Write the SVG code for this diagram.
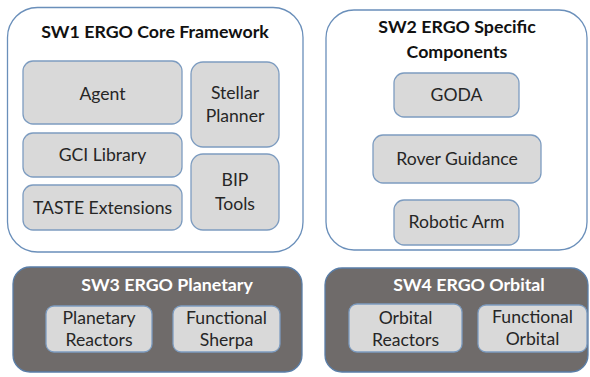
<svg xmlns="http://www.w3.org/2000/svg" width="590" height="377" viewBox="0 0 590 377">
<style>
.outer{fill:#ffffff;stroke:#6a8fba;stroke-width:1.3}
.dark{fill:#6f6b6a;stroke:#5a7ea8;stroke-width:1.3}
.box{fill:#d9d9d9;stroke:#7d9cc0;stroke-width:1.3}
.t{font-family:Lato,"Liberation Sans",sans-serif;font-size:17.6px;fill:#262626;text-anchor:middle}
.h{font-family:Lato,"Liberation Sans",sans-serif;font-size:17.8px;font-weight:bold;fill:#111111;text-anchor:middle}
.hw{font-family:Lato,"Liberation Sans",sans-serif;font-size:17.8px;font-weight:bold;fill:#ffffff;text-anchor:middle}
</style>
<rect width="590" height="377" fill="#ffffff"/>
<g id="sw1">
<rect class="outer" x="7.5" y="7.5" width="295.5" height="244.5" rx="30"/>
<text class="h" x="155" y="38">SW1 ERGO Core Framework</text>
</g>
<g id="agent"><rect class="box" x="23" y="61" width="159" height="63" rx="10"/><text class="t" x="102.5" y="100">Agent</text></g>
<g id="gci"><rect class="box" x="23" y="133" width="159" height="44" rx="10"/><text class="t" x="102.5" y="161">GCI Library</text></g>
<g id="taste"><rect class="box" x="23" y="185" width="159" height="45" rx="10"/><text class="t" x="102.5" y="214">TASTE Extensions</text></g>
<g id="stellar"><rect class="box" x="191" y="62" width="88" height="85" rx="12"/><text class="t" x="235" y="99">Stellar</text><text class="t" x="235" y="122">Planner</text></g>
<g id="bip"><rect class="box" x="191" y="154" width="88" height="76" rx="12"/><text class="t" x="235" y="186">BIP</text><text class="t" x="235" y="210">Tools</text></g>
<g id="sw2">
<rect class="outer" x="326" y="10" width="261" height="240" rx="28"/>
<text class="h" x="457" y="33">SW2 ERGO Specific</text>
<text class="h" x="457" y="58">Components</text>
</g>
<g id="goda"><rect class="box" x="394" y="73" width="125" height="44" rx="10"/><text class="t" x="456.5" y="101">GODA</text></g>
<g id="rover"><rect class="box" x="373" y="135" width="168" height="48" rx="10"/><text class="t" x="457" y="165">Rover Guidance</text></g>
<g id="arm"><rect class="box" x="394" y="200" width="125" height="45" rx="10"/><text class="t" x="456.5" y="228">Robotic Arm</text></g>
<g id="sw3">
<rect class="dark" x="13" y="267" width="289" height="105" rx="17"/>
<text class="hw" x="167" y="291">SW3 ERGO Planetary</text>
</g>
<g id="planetary"><rect class="box" x="46" y="306" width="106" height="46" rx="8"/><text class="t" x="99" y="324">Planetary</text><text class="t" x="99" y="346">Reactors</text></g>
<g id="sherpa"><rect class="box" x="173" y="306" width="107" height="46" rx="8"/><text class="t" x="226.5" y="324">Functional</text><text class="t" x="226.5" y="346">Sherpa</text></g>
<g id="sw4">
<rect class="dark" x="325" y="268" width="263" height="104" rx="17"/>
<text class="hw" x="469" y="291">SW4 ERGO Orbital</text>
</g>
<g id="orbreact"><rect class="box" x="349" y="304" width="113" height="48" rx="8"/><text class="t" x="405.5" y="324">Orbital</text><text class="t" x="405.5" y="346">Reactors</text></g>
<g id="funcorb"><rect class="box" x="478" y="305" width="109" height="47" rx="8"/><text class="t" x="532.5" y="323">Functional</text><text class="t" x="532.5" y="345">Orbital</text></g>
<g id="connectors"></g>
</svg>
